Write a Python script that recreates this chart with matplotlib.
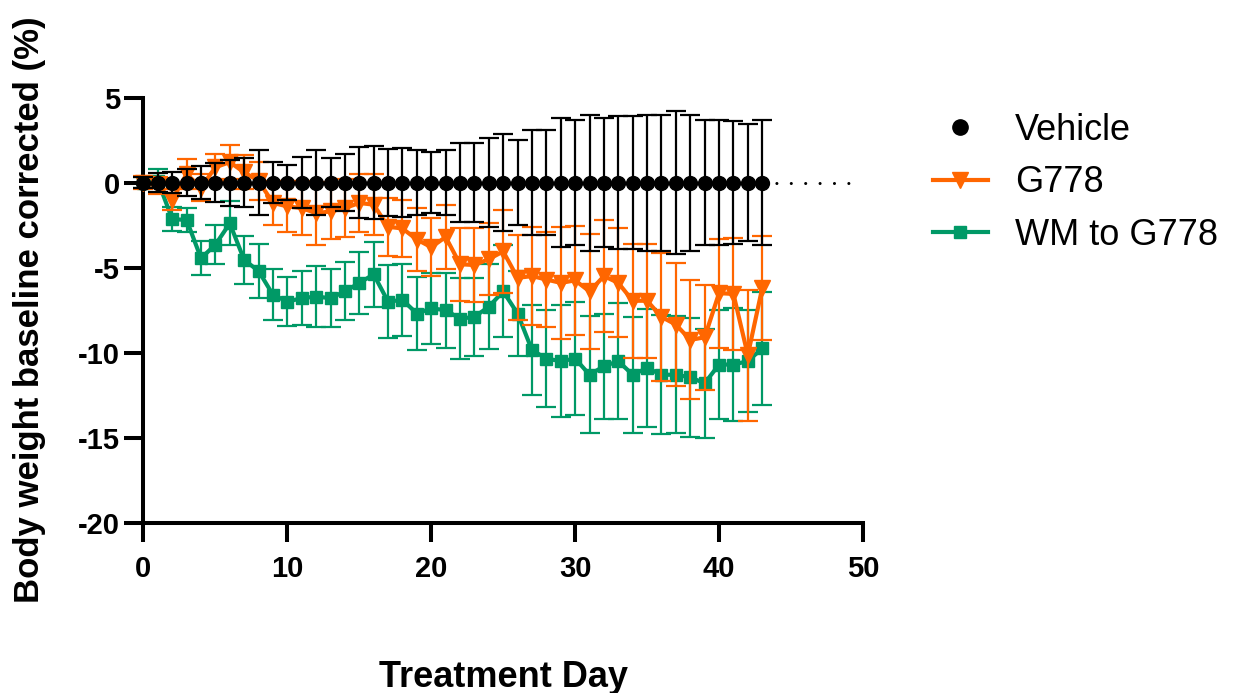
import matplotlib
matplotlib.use("Agg")
import matplotlib.pyplot as plt
from matplotlib.lines import Line2D

# ---- data ----
days = list(range(44))

vehicle_mean = [0.0] * 44
vehicle_sem = [0.3, 0.55, 0.6, 0.8, 0.95, 1.15, 1.35, 1.45, 1.9, 1.2,
               1.05, 1.5, 1.9, 1.45, 1.65, 2.1, 2.15, 1.95, 2.05, 1.9,
               1.8, 1.9, 2.3, 2.3, 2.6, 2.85, 2.5, 3.1, 3.1, 3.8,
               3.65, 4.0, 3.8, 3.9, 3.9, 4.0, 4.0, 4.2, 4.0, 3.65,
               3.65, 3.6, 3.45, 3.7]

g778_mean = [0.0, -0.2, -1.0, 0.5, -0.3, 0.9, 1.2, 0.6, 0.1, -1.2,
             -1.4, -1.5, -1.8, -1.7, -1.5, -1.2, -1.3, -2.6, -2.7, -3.35,
             -3.8, -3.2, -4.8, -4.85, -4.5, -4.05, -5.6, -5.5, -5.7, -5.9,
             -5.75, -6.4, -5.5, -5.9, -6.95, -6.95, -7.9, -8.35, -9.25, -9.1,
             -6.5, -6.55, -10.15, -6.2]
g778_sem = [0.4, 0.5, 0.6, 0.9, 0.8, 0.8, 1.0, 1.0, 1.1, 1.3,
            1.5, 1.6, 1.85, 1.6, 1.7, 1.7, 1.8, 1.7, 1.7, 1.85,
            1.7, 1.9, 2.15, 2.15, 2.1, 2.45, 2.5, 2.9, 2.8, 3.3,
            3.2, 3.4, 3.3, 3.2, 3.35, 3.35, 3.75, 3.6, 3.5, 3.1,
            3.2, 3.3, 3.85, 3.05]

wm_mean = [0.0, 0.1, -2.15, -2.2, -4.45, -3.65, -2.4, -4.55, -5.2, -6.6,
           -7.0, -6.8, -6.7, -6.8, -6.4, -5.9, -5.4, -7.0, -6.9, -7.7,
           -7.4, -7.5, -8.0, -7.9, -7.3, -6.4, -7.7, -9.85, -10.35, -10.5,
           -10.35, -11.3, -10.8, -10.5, -11.3, -10.9, -11.3, -11.3, -11.45, -11.8,
           -10.7, -10.7, -10.5, -9.75]
wm_sem = [0.3, 0.7, 0.7, 0.7, 1.0, 1.15, 1.3, 1.4, 1.6, 1.5,
          1.45, 1.6, 1.8, 1.7, 1.7, 1.8, 1.9, 2.15, 2.1, 2.15,
          2.1, 2.2, 2.4, 2.3, 2.5, 2.7, 2.5, 2.65, 2.85, 3.3,
          3.3, 3.45, 3.1, 3.4, 3.4, 3.45, 3.5, 3.45, 3.5, 3.2,
          3.2, 3.3, 3.0, 3.3]

series_labels = ["Vehicle", "G778", "WM to G778"]

BLACK = "#000000"
ORANGE = "#FF6600"
GREEN = "#009966"

plt.rcParams["font.family"] = ["Liberation Sans", "DejaVu Sans"]
plt.rcParams["axes.unicode_minus"] = False

fig = plt.figure(figsize=(12.42, 6.93), dpi=100)
ax = fig.add_axes([0.1155, 0.2457, 0.5793, 0.6136])

common = dict(elinewidth=1.6, capsize=7, capthick=1.6, clip_on=False)

ax.errorbar(days, wm_mean, yerr=wm_sem, color=GREEN, marker="s", ms=9,
            lw=3.0, zorder=3, **common)
ax.errorbar(days, g778_mean, yerr=g778_sem, color=ORANGE, marker="v", ms=11,
            lw=3.0, zorder=4, **common)
ax.errorbar(days, vehicle_mean, yerr=vehicle_sem, color=BLACK, marker="o", ms=10,
            lw=2.0, zorder=5, **common)

# dotted baseline continuing past the last day
ax.plot([days[-1], 49.5], [0, 0], color=BLACK, lw=2.2,
        linestyle=(0, (0.01, 4.7)), dash_capstyle="round", zorder=2)

ax.set_xlim(0, 50)
ax.set_ylim(-20, 5)
ax.set_xticks([0, 10, 20, 30, 40, 50])
ax.set_yticks([5, 0, -5, -10, -15, -20])

for side in ("top", "right"):
    ax.spines[side].set_visible(False)
for side in ("left", "bottom"):
    ax.spines[side].set_linewidth(2.9)
    ax.spines[side].set_capstyle("projecting")

ax.tick_params(axis="both", direction="out", length=14, width=2.9, labelsize=21)
ax.tick_params(axis="x", pad=9)
ax.tick_params(axis="y", pad=3)
for lab in ax.get_xticklabels() + ax.get_yticklabels():
    lab.set_fontweight("bold")

ax.set_xlabel("Treatment Day", fontsize=26, fontweight="bold")
ax.set_ylabel("Body weight baseline corrected (%)", fontsize=25, fontweight="bold")
ax.xaxis.label.set_va("center")
ax.yaxis.label.set_va("center")
ax.xaxis.set_label_coords(0.5, -0.363)
ax.yaxis.set_label_coords(-0.158, 0.50)

handles = [
    Line2D([], [], color=BLACK, marker="o", ms=11, ls="none"),
    Line2D([], [], color=ORANGE, marker="v", ms=11, lw=3),
    Line2D([], [], color=GREEN, marker="s", ms=9, lw=3),
]
fig.legend(handles, series_labels, loc="upper left",
           bbox_to_anchor=(933 / 1242, 1 - 113 / 693), frameon=False,
           fontsize=26, handlelength=1.52, handletextpad=0.75,
           labelspacing=0.48, borderpad=0, borderaxespad=0)

fig.savefig("out.png", dpi=100)
